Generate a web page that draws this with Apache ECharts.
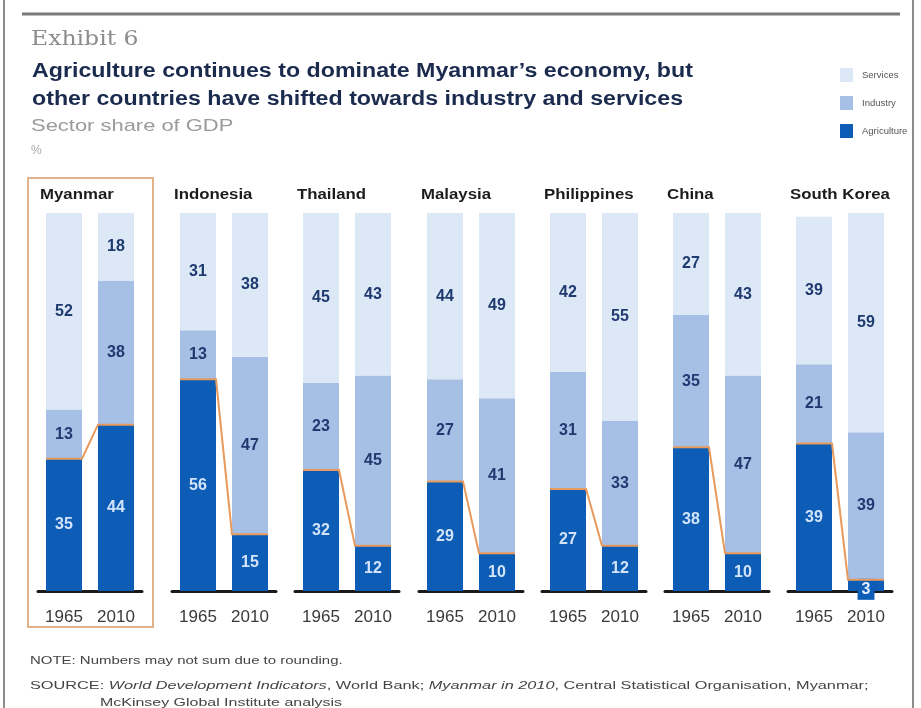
<!DOCTYPE html>
<html><head><meta charset="utf-8">
<script src="https://cdn.jsdelivr.net/npm/echarts@6/dist/echarts.min.js"></script>
<style>html,body{margin:0;padding:0;background:#fff}#c{width:921px;height:708px}</style>
</head><body><div id="c"></div>
<script>
const countries = ['Myanmar','Indonesia','Thailand','Malaysia','Philippines','China','South Korea'];
const years = ['1965','2010'];
const agriculture = [[35,44],[56,15],[32,12],[29,10],[27,12],[38,10],[39,3]];
const industry    = [[13,38],[13,47],[23,45],[27,41],[31,33],[35,47],[21,39]];
const services    = [[52,18],[31,38],[45,43],[44,49],[42,55],[27,43],[39,59]];
const legendItems = ['Services','Industry','Agriculture'];
const titleLines = ["Agriculture continues to dominate Myanmar’s economy, but",
                    "other countries have shifted towards industry and services"];

const gridLefts = [38,172,295,419,542,665,788];
const GW = 104, GT = 213, GH = 378, BW = 36;
const C_SERV = '#dce8f6', C_IND = '#a6bfe5', C_AGR = '#0d5cb6', C_ORANGE = '#e89a5c';
const FONT = '"Liberation Sans", Arial, sans-serif';

const grids = [], xAxes = [], yAxes = [], series = [], graphics = [];
countries.forEach((c, i) => {
  grids.push({left: gridLefts[i], top: GT, width: GW, height: GH});
  xAxes.push({type:'category', gridIndex:i, data: years,
    axisLine:{show:true, lineStyle:{color:'#1a1a1a', width:3}},
    axisTick:{show:false},
    axisLabel:{color:'#3a3a3a', fontSize:17, fontFamily:FONT, margin:18}});
  yAxes.push({type:'value', gridIndex:i, min:0, max:100, show:false, splitLine:{show:false}});
  const lblDark = {show:true, position:'inside', color:'#1f3a70', fontSize:16, fontWeight:'bold', fontFamily:FONT};
  series.push({name:'Agriculture', type:'bar', stack:'s'+i, xAxisIndex:i, yAxisIndex:i, barWidth:BW,
    itemStyle:{color:C_AGR},
    label:{show:true, position:'inside', color:'#d3e4fa', fontSize:16, fontWeight:'bold', fontFamily:FONT},
    data: agriculture[i].map(v => v < 6 ? {value:v, label:{backgroundColor:C_AGR, padding:[3,4,2,4], offset:[0,4], color:'#e6f0ff'}} : v)});
  series.push({name:'Industry', type:'bar', stack:'s'+i, xAxisIndex:i, yAxisIndex:i, barWidth:BW,
    itemStyle:{color:C_IND}, label:lblDark, data: industry[i]});
  series.push({name:'Services', type:'bar', stack:'s'+i, xAxisIndex:i, yAxisIndex:i, barWidth:BW,
    itemStyle:{color:C_SERV}, label:lblDark, data: services[i]});
  series.push({type:'custom', xAxisIndex:i, yAxisIndex:i, z:5, silent:true,
    encode:{x:[0,2], y:[1,3]},
    data:[[0, agriculture[i][0], 1, agriculture[i][1]]],
    renderItem:(params, api) => {
      const p0 = api.coord([api.value(0), api.value(1)]);
      const p1 = api.coord([api.value(2), api.value(3)]);
      const h = BW/2;
      return {type:'polyline', shape:{points:[[p0[0]-h,p0[1]],[p0[0]+h,p0[1]],[p1[0]-h,p1[1]],[p1[0]+h,p1[1]]]},
        style:{stroke:C_ORANGE, lineWidth:2, fill:null}};
    }});
  graphics.push({type:'text', x: gridLefts[i]+2, y:195, scaleX:1.2,
    style:{text:c, font:'bold 14px '+FONT, fill:'#1c1c1c', verticalAlign:'middle'}});
});

graphics.push(
  {type:'line', shape:{x1:4,y1:0,x2:4,y2:708}, style:{stroke:'#666', lineWidth:1.5}},
  {type:'line', shape:{x1:913,y1:0,x2:913,y2:708}, style:{stroke:'#666', lineWidth:1.5}},
  {type:'line', shape:{x1:22,y1:14,x2:900,y2:14}, style:{stroke:'#7a7a7a', lineWidth:3}},
  {type:'rect', shape:{x:28,y:178,width:125,height:449}, style:{stroke:'#e2b38a', lineWidth:2, fill:null}},
  {type:'text', x:31, y:40, scaleX:1.12, style:{text:'Exhibit 6', font:'21px "DejaVu Serif","Liberation Serif",serif', fill:'#8c8c8c', verticalAlign:'middle'}},
  {type:'text', x:32, y:71, scaleX:1.16, style:{text:titleLines[0], font:'bold 20px '+FONT, fill:'#1b2b4e', verticalAlign:'middle'}},
  {type:'text', x:32, y:99, scaleX:1.16, style:{text:titleLines[1], font:'bold 20px '+FONT, fill:'#1b2b4e', verticalAlign:'middle'}},
  {type:'text', x:31, y:126, scaleX:1.29, style:{text:'Sector share of GDP', font:'17px '+FONT, fill:'#9a9a9a', verticalAlign:'middle'}},
  {type:'text', x:31, y:151, style:{text:'%', font:'12px '+FONT, fill:'#aaaaaa', verticalAlign:'middle'}},
  {type:'text', x:30, y:661, scaleX:1.36, style:{text:'NOTE: Numbers may not sum due to rounding.', font:'11px '+FONT, fill:'#444', verticalAlign:'middle'}},
  {type:'text', x:30, y:686, scaleX:1.48, style:{
    text:'SOURCE: {i|World Development Indicators}, World Bank; {i|Myanmar in 2010}, Central Statistical Organisation, Myanmar;',
    font:'11px '+FONT, fill:'#444', verticalAlign:'middle', rich:{i:{fontStyle:'italic', fontSize:11, fontFamily:FONT}}}},
  {type:'text', x:100, y:703, scaleX:1.45, style:{text:'McKinsey Global Institute analysis', font:'11px '+FONT, fill:'#444', verticalAlign:'middle'}}
);

const chart = echarts.init(document.getElementById('c'));
chart.setOption({
  animation:false,
  legend:{orient:'vertical', left:835, top:63, itemWidth:13, itemHeight:14, itemGap:14, icon:'rect',
    data:legendItems, selectedMode:false,
    textStyle:{fontSize:9.5, color:'#555', fontFamily:FONT, padding:[0,0,0,4]}},
  grid: grids, xAxis: xAxes, yAxis: yAxes, series: series,
  graphic: graphics
});
</script></body></html>
